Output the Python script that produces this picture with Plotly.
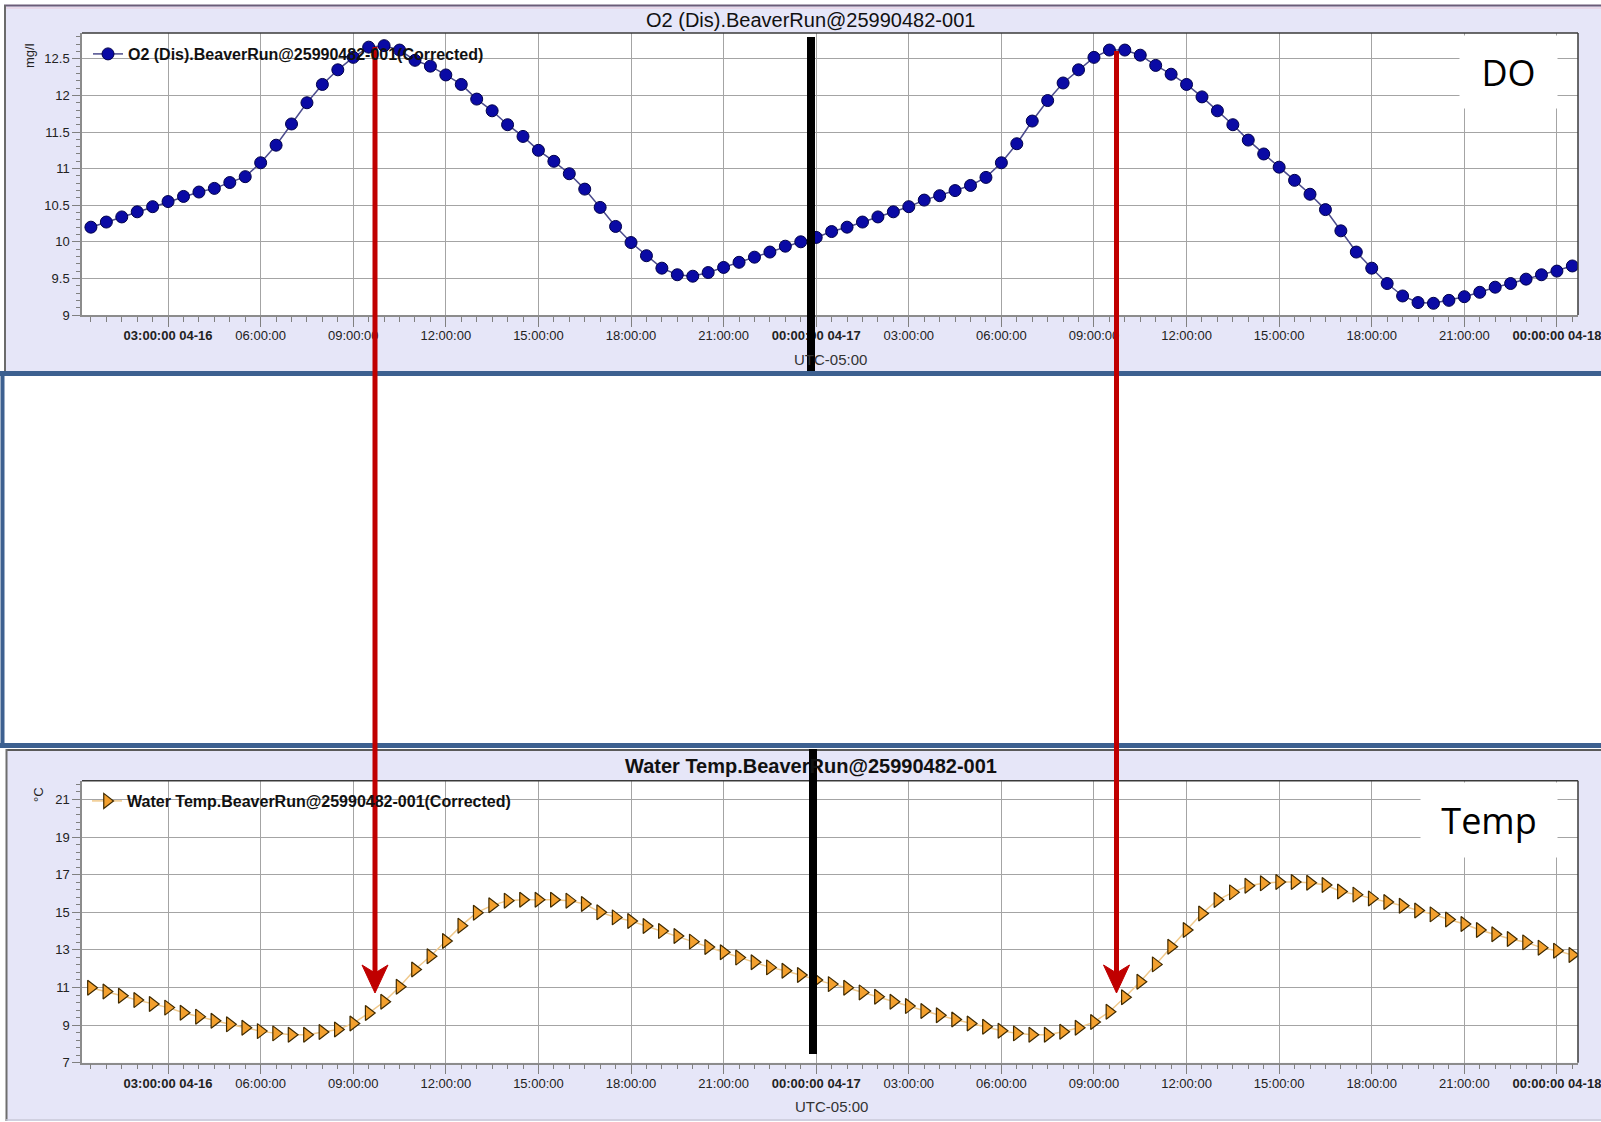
import pandas as pd
import plotly.graph_objects as go

W, H = 1601, 1122

# ---------------- data ----------------
start_time = "2013-04-16 00:30"
n_points = 97
times = pd.date_range(start_time, periods=n_points, freq="30min")

do_values = [
    10.20, 10.27, 10.34, 10.41, 10.48, 10.55, 10.62, 10.68, 10.73, 10.81, 10.89,
    11.08, 11.32, 11.61, 11.90, 12.15, 12.35, 12.52, 12.66, 12.68, 12.62, 12.48,
    12.40, 12.28, 12.15, 11.95, 11.79, 11.60, 11.44, 11.25, 11.10, 10.93, 10.72,
    10.47, 10.21, 9.99, 9.81, 9.64, 9.55, 9.53, 9.58, 9.65, 9.72, 9.79, 9.86,
    9.94, 10.00,
    10.06, 10.14, 10.20, 10.27, 10.34, 10.41, 10.48, 10.57, 10.63, 10.70, 10.77,
    10.88, 11.08, 11.34, 11.65, 11.93, 12.17, 12.35, 12.52, 12.62, 12.62, 12.55,
    12.41, 12.29, 12.15, 11.98, 11.79, 11.60, 11.39, 11.20, 11.02, 10.84, 10.65,
    10.44, 10.15, 9.86, 9.64, 9.43, 9.26, 9.17, 9.16, 9.20, 9.25, 9.31, 9.38,
    9.43, 9.49, 9.55,
    9.60, 9.67,
]

temp_values = [
    10.99, 10.79, 10.56, 10.33, 10.12, 9.93, 9.66, 9.45, 9.23, 9.04, 8.86,
    8.68, 8.56, 8.49, 8.49, 8.63, 8.77, 9.09, 9.64, 10.24, 11.04, 11.96,
    12.66, 13.47, 14.29, 14.98, 15.37, 15.62, 15.67, 15.67, 15.67, 15.62, 15.44,
    15.00, 14.73, 14.54, 14.27, 14.00, 13.74, 13.44, 13.15, 12.87, 12.59, 12.34,
    12.07, 11.89, 11.66,
    11.40, 11.18, 10.99, 10.74, 10.51, 10.24, 10.01, 9.75, 9.52, 9.30, 9.09,
    8.91, 8.70, 8.56, 8.49, 8.49, 8.65, 8.86, 9.16, 9.71, 10.48, 11.31,
    12.23, 13.17, 14.06, 14.94, 15.65, 16.06, 16.41, 16.54, 16.61, 16.61, 16.57,
    16.45, 16.11, 15.94, 15.74, 15.55, 15.35, 15.10, 14.89, 14.62, 14.38, 14.06,
    13.83, 13.58, 13.40, 13.12,
    12.96, 12.73,
]

do_name = "O2 (Dis).BeaverRun@25990482-001(Corrected)"
temp_name = "Water Temp.BeaverRun@25990482-001(Corrected)"
do_title = "O2 (Dis).BeaverRun@25990482-001"
temp_title = "Water Temp.BeaverRun@25990482-001"

x_tick_vals = [
    "2013-04-16 03:00", "2013-04-16 06:00", "2013-04-16 09:00", "2013-04-16 12:00",
    "2013-04-16 15:00", "2013-04-16 18:00", "2013-04-16 21:00", "2013-04-17 00:00",
    "2013-04-17 03:00", "2013-04-17 06:00", "2013-04-17 09:00", "2013-04-17 12:00",
    "2013-04-17 15:00", "2013-04-17 18:00", "2013-04-17 21:00", "2013-04-18 00:00",
]
x_tick_text = [
    "<b>03:00:00 04-16</b>", "06:00:00", "09:00:00", "12:00:00",
    "15:00:00", "18:00:00", "21:00:00", "<b>00:00:00 04-17</b>",
    "03:00:00", "06:00:00", "09:00:00", "12:00:00",
    "15:00:00", "18:00:00", "21:00:00", "<b>00:00:00 04-18</b>",
]
x_range = ["2013-04-16 00:12:40", "2013-04-18 00:41:00"]

do_tick_vals = [9, 9.5, 10, 10.5, 11, 11.5, 12, 12.5]
do_tick_text = ["9", "9.5", "10", "10.5", "11", "11.5", "12", "12.5"]
do_range = [9, 12.853]

temp_tick_vals = [7, 9, 11, 13, 15, 17, 19, 21]
temp_tick_text = ["7", "9", "11", "13", "15", "17", "19", "21"]
temp_range = [7, 22]


# ---------------- helpers (pixel -> paper) ----------------
def px(x):
    return min(max(x / W, 0.0), 1.0)


def py(y):
    return min(max(1 - y / H, 0.0), 1.0)


FONT = "Liberation Sans"
PANEL = "#E6E6F8"
GRID = "#A4A4A4"
TICKC = "#808080"

fig = go.Figure()

fig.add_trace(go.Scatter(
    x=times, y=do_values, name=do_name, mode="lines+markers",
    line=dict(color="#4B4B8C", width=1.5),
    marker=dict(symbol="circle", size=12, color="#0A0AA5",
                line=dict(color="#00004A", width=1)),
    xaxis="x", yaxis="y", legend="legend",
))
fig.add_trace(go.Scatter(
    x=times, y=temp_values, name=temp_name, mode="lines+markers",
    line=dict(color="#F0C98C", width=1.5),
    marker=dict(symbol="triangle-right", size=13, color="#F3A02E",
                line=dict(color="#3F2A00", width=1.2)),
    xaxis="x2", yaxis="y2", legend="legend2",
))

xdom = [px(82), px(1578)]


def xaxis_cfg(anchor):
    return dict(
        domain=xdom, anchor=anchor, type="date", range=x_range,
        tickmode="array", tickvals=x_tick_vals, ticktext=x_tick_text,
        showgrid=True, gridcolor=GRID, gridwidth=1,
        ticks="outside", ticklen=10, tickwidth=1, tickcolor=TICKC,
        ticklabelstandoff=-2,
        minor=dict(tickmode="linear", tick0="2013-04-16 00:00", dtick=1800000,
                   ticks="outside", ticklen=5, tickwidth=1, tickcolor=TICKC,
                   showgrid=False),
        showline=True, linecolor="#8C8C8C", linewidth=1.5, automargin=False,
        zeroline=False, ticklabeloverflow="allow",
        tickfont=dict(family=FONT, size=13, color="#222222"),
    )


def yaxis_cfg(anchor, dom, rng, tv, tt, mdt, m0):
    return dict(
        domain=dom, anchor=anchor, range=rng,
        tickmode="array", tickvals=tv, ticktext=tt,
        showgrid=True, gridcolor=GRID, gridwidth=1,
        ticks="outside", ticklen=8, tickwidth=1, tickcolor=TICKC,
        minor=dict(tickmode="linear", tick0=m0, dtick=mdt, ticks="outside",
                   ticklen=4, tickwidth=1, tickcolor=TICKC, showgrid=False),
        showline=True, linecolor="#8C8C8C", linewidth=1.5, zeroline=False,
        automargin=False,
        tickfont=dict(family=FONT, size=13, color="#222222"),
    )


def hline(y, x0, x1, color, width, layer="below"):
    return dict(type="line", xref="paper", yref="paper", layer=layer,
                x0=px(x0), x1=px(x1), y0=py(y), y1=py(y),
                line=dict(color=color, width=width))


def vline(x, y0, y1, color, width, layer="below"):
    return dict(type="line", xref="paper", yref="paper", layer=layer,
                x0=px(x), x1=px(x), y0=py(y0), y1=py(y1),
                line=dict(color=color, width=width))


def frect(x0, y0, x1, y1, color):
    return dict(type="rect", xref="paper", yref="paper", layer="below",
                x0=px(x0), x1=px(x1), y0=py(y1), y1=py(y0),
                fillcolor=color, line=dict(width=0))


shapes = [
    # top panel
    frect(4, 5, W, 371, PANEL),
    hline(5.5, 4, W, "#6B5C78", 2),
    hline(8, 6, W, "#E8C8D8", 1),
    vline(5, 5, 371, "#6B6B6B", 2),
    # bottom panel
    frect(6, 749, W, 1121, PANEL),
    hline(750, 6, W, "#5A5A5A", 2),
    vline(6.5, 749, 1121, "#6E6E6E", 2),
    hline(1120, 6, W, "#C8C8D8", 1.5),
    # middle blue box
    frect(0, 371, W, 748, "white"),
    hline(373.5, 0, W, "#3D6090", 5),
    hline(745.5, 0, W, "#3D6090", 5),
    vline(2.5, 371, 748, "#3D6090", 4),
    # plot area backgrounds
    dict(type="rect", xref="x domain", yref="y domain", layer="below",
         x0=0, x1=1, y0=0, y1=1, fillcolor="white", line=dict(width=0)),
    dict(type="rect", xref="x2 domain", yref="y2 domain", layer="below",
         x0=0, x1=1, y0=0, y1=1, fillcolor="white", line=dict(width=0)),
]
# dark top / right frame lines
for xr, yr in (("x domain", "y domain"), ("x2 domain", "y2 domain")):
    shapes.append(dict(type="line", xref=xr, yref=yr, layer="above",
                       x0=0, x1=1, y0=1, y1=1, line=dict(color="#3A3A3A", width=1.5)))
    shapes.append(dict(type="line", xref=xr, yref=yr, layer="above",
                       x0=1, x1=1, y0=0, y1=1, line=dict(color="#3A3A3A", width=1.5)))

# black vertical bars
shapes.append(vline(811, 371, 37, "black", 8, layer="above"))
shapes.append(vline(813, 1054, 749, "black", 8, layer="above"))

# red arrows
RED = "#C00000"
for ax_x, top in ((375, 47), (1116.5, 51)):
    shapes.append(vline(ax_x, 973, top, RED, 5, layer="above"))
    path = "M{:.5f},{:.5f} L{:.5f},{:.5f} L{:.5f},{:.5f} L{:.5f},{:.5f} Z".format(
        px(ax_x - 13), py(965), px(ax_x), py(973), px(ax_x + 13), py(965),
        px(ax_x), py(993))
    shapes.append(dict(type="path", xref="paper", yref="paper", layer="above",
                       path=path, fillcolor=RED, line=dict(color=RED, width=1)))

annotations = [
    dict(text=do_title, x=px(810.5), y=py(20), xref="paper", yref="paper",
         showarrow=False, xanchor="center", yanchor="middle",
         font=dict(family=FONT, size=20, color="#111111")),
    dict(text="<b>" + temp_title + "</b>", x=px(811), y=py(766), xref="paper", yref="paper",
         showarrow=False, xanchor="center", yanchor="middle",
         font=dict(family=FONT, size=20, color="#111111")),
    dict(text="UTC-05:00", x=px(830), y=py(359), xref="paper", yref="paper",
         showarrow=False, xanchor="center", yanchor="middle",
         font=dict(family=FONT, size=15, color="#333333")),
    dict(text="UTC-05:00", x=px(831), y=py(1106), xref="paper", yref="paper",
         showarrow=False, xanchor="center", yanchor="middle",
         font=dict(family=FONT, size=15, color="#333333")),
    dict(text="mg/l", x=px(29), y=py(56), xref="paper", yref="paper",
         showarrow=False, textangle=-90, xanchor="center", yanchor="middle",
         font=dict(family=FONT, size=13, color="#222222")),
    dict(text="°C", x=px(39), y=py(795), xref="paper", yref="paper",
         showarrow=False, textangle=-90, xanchor="center", yanchor="middle",
         font=dict(family=FONT, size=13, color="#222222")),
    dict(text="DO", x=px(1508.5), y=py(71.5), xref="paper", yref="paper",
         showarrow=False, xanchor="center", yanchor="middle",
         width=97, height=72, borderpad=0, bgcolor="white",
         font=dict(family="Open Sans", size=36, color="black")),
    dict(text="Temp", x=px(1489), y=py(820), xref="paper", yref="paper",
         showarrow=False, xanchor="center", yanchor="middle",
         width=136, height=74, borderpad=0, bgcolor="white",
         font=dict(family="Open Sans", size=36, color="black")),
]

legend_common = dict(bgcolor="rgba(0,0,0,0)", borderwidth=0,
                     xanchor="left", yanchor="middle",
                     font=dict(family=FONT, size=16, color="#111111", weight="bold"))

fig.update_layout(
    width=W, height=H, autosize=False,
    margin=dict(l=0, r=0, t=0, b=0, pad=0, autoexpand=False),
    paper_bgcolor="white", plot_bgcolor="white",
    xaxis=xaxis_cfg("y"),
    xaxis2=xaxis_cfg("y2"),
    yaxis=yaxis_cfg("x", [py(315), py(33)], do_range, do_tick_vals, do_tick_text, 0.1, 9),
    yaxis2=yaxis_cfg("x2", [py(1062.7), py(780.7)], temp_range, temp_tick_vals,
                     temp_tick_text, 0.4, 7),
    legend=dict(x=px(88), y=py(54), **legend_common),
    legend2=dict(x=px(87), y=py(801), **legend_common),
    showlegend=True,
    shapes=shapes,
    annotations=annotations,
)

fig.write_html("out.html")
